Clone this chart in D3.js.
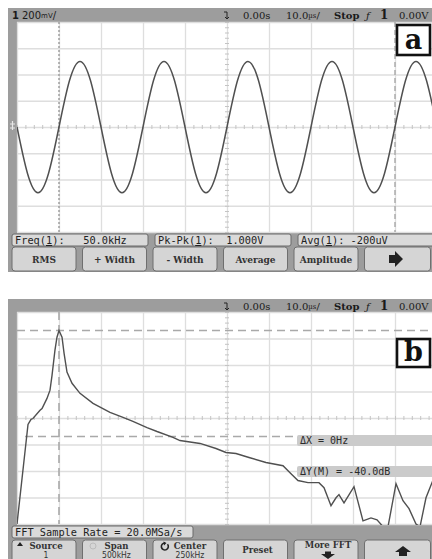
<!DOCTYPE html>
<html><head><meta charset="utf-8">
<script src="https://cdn.jsdelivr.net/npm/d3@7"></script>
<style>body{margin:0;background:#fff}svg{display:block}</style>
</head><body><svg id="c" width="432" height="559"></svg>
<script>
// ---- Data: panel a (time domain) ----
const timeUs = [-50,-47.5,-45,-42.5,-40,-37.5,-35,-32.5,-30,-27.5,-25,-22.5,-20,-17.5,-15,-12.5,-10,-7.5,-5,-2.5,0,2.5,5,7.5,10,12.5,15,17.5,20,22.5,25,27.5,30,32.5,35,37.5,40,42.5,45,47.5,50];
const volts = [0,-0.354,-0.5,-0.354,0,0.354,0.5,0.354,0,-0.354,-0.5,-0.354,0,0.354,0.5,0.354,0,-0.354,-0.5,-0.354,0,0.354,0.5,0.354,0,-0.354,-0.5,-0.354,0,0.354,0.5,0.354,0,-0.354,-0.5,-0.354,0,0.354,0.5,0.354,0];
const timeCursorsUs = [-40, 40];
const measLabels = ["Freq(1):", "Pk-Pk(1):", "Avg(1):"];
const measValues = ["50.0kHz", "1.000V", "-200uV"];
const measGap = ["  ", " ", ""];
const softKeysA = ["RMS", "+ Width", "- Width", "Average", "Amplitude", ""];

// ---- Data: panel b (FFT) ----
const freqKHz = [0,13.1,16.7,19,27.4,29.8,35.7,39.3,41.7,45.2,47.6,50,53.6,56,59.5,65.5,75,90.5,110.7,126.2,138,154.8,166.7,185.7,194,217.9,236.9,248.8,260.7,276.2,296.4,316.7,326.2,334.5,346.4,359.5,365.5,373.8,379.8,383.3,389.3,401.2,411.9,421.4,428.6,435.7,441.7,451.2,459.5,466.7,475,479.8,486.9,494,500];
const levelDb = [-80,-42.4,-40.5,-40.2,-37.1,-36.4,-32.6,-29.5,-23.9,-14.4,-9.5,-7,-9.5,-15.5,-22.7,-26.9,-30.7,-34.5,-37.9,-39.8,-41.3,-43.6,-45.1,-47.3,-48.5,-49.6,-51.5,-53,-53.4,-54.9,-56.8,-58,-61,-63.6,-64.4,-64.4,-66.3,-73.1,-70.1,-68.9,-72,-65.9,-78.8,-77.7,-78.4,-81,-81,-64.8,-71.2,-74.2,-80,-81,-70.1,-64.4,-60];
const freqCursorKHz = 50;
const dbCursors = [-7, -47];
const fftInfo = "FFT Sample Rate = 20.0MSa/s";
const deltaX = "ΔX = 0Hz";
const deltaY = "ΔY(M) = -40.0dB";
const softKeysB = [["Source","1"],["Span","500kHz"],["Center","250kHz"],["Preset",""],["More FFT",""],["",""]];
const statusRight = ["0.00s", "10.0", "Stop", "1", "0.00V"];

const svg = d3.select("#c");
const FRAME = "#9d9d9d", GRID = "#dedede", TRACE = "#505050", KEY = "#d5d5d5";
const MONO = "DejaVu Sans Mono";
const X0 = 17, X1 = 437;

// scales
const xT = d3.scaleLinear().domain([-50, 50]).range([X0, X1]);
const yV = d3.scaleLinear().domain([-0.8, 0.8]).range([232, 22]);
const xF = d3.scaleLinear().domain([0, 500]).range([X0, X1]);
const yD = d3.scaleLinear().domain([-80, 0]).range([524, 312]);

function frame(top, plotTop, plotBot, bottom) {
  svg.append("rect").attr("x", 8).attr("y", top).attr("width", 424).attr("height", bottom - top).attr("fill", FRAME);
  svg.append("rect").attr("x", X0).attr("y", plotTop).attr("width", 432 - X0).attr("height", plotBot - plotTop).attr("fill", "#fff");
}
function grid(xs, ys, plotTop, plotBot, xMinor, yMinor) {
  const g = svg.append("g");
  const gx = g.append("g").attr("transform", `translate(0,${plotBot})`)
    .call(d3.axisBottom(xs).tickSize(-(plotBot - plotTop)).tickFormat(""));
  gx.select(".domain").remove();
  gx.selectAll("line").attr("stroke", GRID).attr("stroke-width", 1.3);
  const gy = g.append("g").attr("transform", `translate(${X0},0)`)
    .call(d3.axisLeft(ys).tickSize(-(X1 - X0)).tickFormat(""));
  gy.select(".domain").remove();
  gy.selectAll("line").attr("stroke", GRID).attr("stroke-width", 1.3);
  const xc = xs(d3.mean(xs.domain())), yc = ys(d3.mean(ys.domain()));
  const mx = g.append("g").attr("transform", `translate(0,${yc - 2})`)
    .call(d3.axisBottom(xs).tickValues(xMinor).tickSize(4).tickFormat(""));
  mx.select(".domain").remove();
  mx.selectAll("line").attr("stroke", "#c4c4c4");
  const my = g.append("g").attr("transform", `translate(${xc - 2},0)`)
    .call(d3.axisRight(ys).tickValues(yMinor).tickSize(4).tickFormat(""));
  my.select(".domain").remove();
  my.selectAll("line").attr("stroke", "#c4c4c4");
}
function clip(id, y0, y1) {
  svg.append("clipPath").attr("id", id).append("rect").attr("x", X0).attr("y", y0).attr("width", 432 - X0).attr("height", y1 - y0);
}
function statusBar(yMid) {
  const t = svg.append("text").attr("y", yMid + 4).attr("font-family", "DejaVu Serif").attr("font-size", 10).attr("fill", "#1a1a1a");
  t.append("tspan").attr("x", 243).text(statusRight[0]);
  t.append("tspan").attr("x", 286).text(statusRight[1]);
  t.append("tspan").attr("font-size", 7).attr("dy", -1).text("µs");
  t.append("tspan").attr("dy", 1).text("/");
  t.append("tspan").attr("x", 334).attr("font-weight", "bold").text(statusRight[2]);
  t.append("tspan").attr("x", 366).attr("font-style", "italic").text("ƒ");
  t.append("tspan").attr("x", 380).attr("font-size", 12).attr("font-weight", "bold").text(statusRight[3]);
  t.append("tspan").attr("x", 399).text(statusRight[4]);
  svg.append("path").attr("d", `M${xT(0) - 3},${yMid - 3}h3v7M${xT(0) - 2},${yMid + 2}l2,2l2,-2`)
    .attr("stroke", "#222").attr("fill", "none").attr("stroke-width", 1);
}
function keys(y, n) {
  d3.range(n).forEach(i => {
    svg.append("rect").attr("x", 12 + i * 70.5).attr("y", y).attr("width", i === 5 ? 66 : 64).attr("height", 24).attr("rx", 3)
      .attr("fill", KEY).attr("stroke", "#6f6f6f").attr("stroke-width", 1);
  });
}
function label(x, y, txt, boxW, boxH) {
  svg.append("rect").attr("x", x).attr("y", y).attr("width", boxW).attr("height", boxH).attr("fill", "#fff").attr("stroke", "#111").attr("stroke-width", 2.6);
  svg.append("text").attr("x", x + boxW / 2).attr("y", y + boxH - 6).attr("text-anchor", "middle")
    .attr("font-family", "DejaVu Serif").attr("font-weight", "bold").attr("font-size", 27).attr("fill", "#111").text(txt);
}
function infoBox(x, y, w) {
  svg.append("rect").attr("x", x).attr("y", y).attr("width", w).attr("height", 12).attr("rx", 2)
    .attr("fill", "#dadada").attr("stroke", "#6a6a6a").attr("stroke-width", 1);
}

// ================= Panel a =================
frame(8, 22, 232, 272);
grid(xT, yV, 22, 232, d3.range(-50, 50.1, 2), d3.range(-0.8, 0.801, 0.04));
svg.append("line").attr("x1", xT(timeCursorsUs[0])).attr("x2", xT(timeCursorsUs[0])).attr("y1", 22).attr("y2", 232)
  .attr("stroke", "#9a9a9a").attr("stroke-width", 1.4).attr("stroke-dasharray", "2,2");
svg.append("line").attr("x1", xT(timeCursorsUs[1])).attr("x2", xT(timeCursorsUs[1])).attr("y1", 22).attr("y2", 232)
  .attr("stroke", "#a8a8a8").attr("stroke-width", 1.4).attr("stroke-dasharray", "5,3");
clip("ca", 22, 232);
svg.append("path").datum(timeUs.map((t, i) => [t, volts[i]]))
  .attr("clip-path", "url(#ca)")
  .attr("d", d3.line().x(d => xT(d[0])).y(d => yV(d[1])).curve(d3.curveNatural))
  .attr("fill", "none").attr("stroke", TRACE).attr("stroke-width", 1.5);
const ha = svg.append("text").attr("y", 19).attr("font-family", "DejaVu Sans").attr("font-size", 10).attr("fill", "#1a1a1a");
ha.append("tspan").attr("x", 12).attr("font-weight", "bold").text("1");
ha.append("tspan").attr("x", 22).text("200");
ha.append("tspan").attr("font-size", 7).attr("dy", -1).text("mV");
ha.append("tspan").attr("dy", 1).text("/");
statusBar(15);
svg.append("path").attr("d", "M10,124h5M12.5,121v9M10,128h5").attr("stroke", "#e8e8e8").attr("stroke-width", 1.2);
const mBox = [[12, 136], [155, 136], [298, 140]];
mBox.forEach((b, i) => {
  infoBox(b[0], 234, b[1]);
  const t = svg.append("text").attr("x", b[0] + 3).attr("y", 244).attr("font-family", MONO).attr("font-size", 10.3).attr("fill", "#222")
    .attr("xml:space", "preserve").style("white-space", "pre");
  const parts = measLabels[i].split("1");
  t.append("tspan").text(parts[0]);
  t.append("tspan").attr("text-decoration", "underline").text("1");
  t.append("tspan").text(parts[1] + " " + measGap[i] + measValues[i]);
});
keys(247, 6);
softKeysA.forEach((k, i) => {
  if (!k) return;
  svg.append("text").attr("x", 44 + i * 70.5).attr("y", 263).attr("text-anchor", "middle")
    .attr("font-family", "DejaVu Serif Condensed, DejaVu Serif").attr("font-weight", "bold").attr("font-size", 10).attr("fill", "#333").text(k);
});
svg.append("path").attr("d", "M389,255h6v-4l8,8l-8,8v-4h-6z").attr("fill", "#222");
label(397, 25, "a", 33, 30);

// ================= Panel b =================
frame(299, 312, 524, 559);
grid(xF, yD, 312, 524, d3.range(0, 500.1, 10), d3.range(-80, 0.1, 2));
const cursorStyle = s => s.attr("stroke", "#a9a9a9").attr("stroke-width", 1.6).attr("stroke-dasharray", "8,5");
cursorStyle(svg.append("line").attr("x1", xF(freqCursorKHz)).attr("x2", xF(freqCursorKHz)).attr("y1", 312).attr("y2", 524));
cursorStyle(svg.append("line").attr("x1", X0).attr("x2", 432).attr("y1", yD(dbCursors[0])).attr("y2", yD(dbCursors[0])));
cursorStyle(svg.append("line").attr("x1", X0 + 8).attr("x2", 432).attr("y1", yD(dbCursors[1])).attr("y2", yD(dbCursors[1])));
clip("cb", 312, 525);
svg.append("path").datum(freqKHz.map((f, i) => [f, levelDb[i]]))
  .attr("clip-path", "url(#cb)")
  .attr("d", d3.line().x(d => xF(d[0])).y(d => yD(d[1])))
  .attr("fill", "none").attr("stroke", TRACE).attr("stroke-width", 1.4);
statusBar(306);
[[deltaX, 435], [deltaY, 466]].forEach(([t, y]) => {
  svg.append("rect").attr("x", 297).attr("y", y).attr("width", 140).attr("height", 11).attr("rx", 2).attr("fill", "#cbcbcb");
  svg.append("text").attr("x", 300).attr("y", y + 9).attr("font-family", MONO).attr("font-size", 10).attr("fill", "#2a2a2a").text(t);
});
label(397, 339, "b", 33, 28);
infoBox(12, 526, 181);
svg.append("text").attr("x", 15).attr("y", 536).attr("font-family", MONO).attr("font-size", 10.3).attr("fill", "#222").text(fftInfo);
keys(540, 6);
softKeysB.forEach((k, i) => {
  const cx = 46 + i * 70.5;
  const two = k[1] !== "";
  const yTop = two ? 549 : (i === 4 ? 548 : 553);
  if (k[0]) svg.append("text").attr("x", cx + (i === 2 ? 3 : 0)).attr("y", yTop).attr("text-anchor", "middle")
    .attr("font-family", "DejaVu Serif Condensed, DejaVu Serif").attr("font-weight", "bold").attr("font-size", 9.5).attr("fill", "#333").text(k[0]);
  if (two) svg.append("text").attr("x", cx + (i === 2 ? 3 : 0)).attr("y", 558).attr("text-anchor", "middle")
    .attr("font-family", "DejaVu Sans Condensed, DejaVu Sans").attr("font-size", 8.5).attr("fill", "#333").text(k[1]);
});
svg.append("path").attr("d", "M17,546l3,-4l3,4z").attr("fill", "#222");
svg.append("circle").attr("cx", 93).attr("cy", 546).attr("r", 3).attr("fill", "none").attr("stroke", "#bbb");
svg.append("path").attr("d", "M165,543 a3.5,3.5 0 1,0 2.5,1.2").attr("fill", "none").attr("stroke", "#222").attr("stroke-width", 1.6);
svg.append("path").attr("d", "M163.5,541.5l3,1.5l-2.5,2.5z").attr("fill", "#222");
svg.append("path").attr("d", "M325,551.5h6v2.5h4l-7,5l-7,-5h4z").attr("fill", "#222");
svg.append("path").attr("d", "M403,546l8,6h-4v4h-8v-4h-4z").attr("fill", "#222");
</script></body></html>
